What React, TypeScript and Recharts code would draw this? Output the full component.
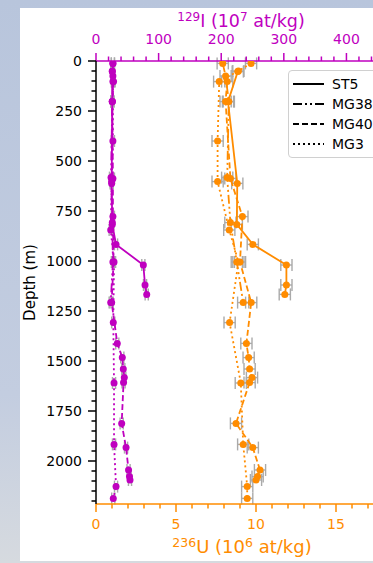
import React from 'react';
import {
  ComposedChart, Scatter, XAxis, YAxis, ErrorBar,
} from 'recharts';

const MAG = '#bf00bf';
const ORG = '#ff8c00';
const FONT = '"DejaVu Sans", sans-serif';

// depth profiles (129I in 1e7 at/kg, 236U in 1e6 at/kg)
const st5Depth = [53, 203, 612, 817, 917, 1020, 1120, 1167];
const st5I = [26, 26, 25, 26, 32, 75.6, 78.3, 81];
const st5U = [8.86, 8.25, 8.83, 8.8, 9.8, 11.9, 11.9, 11.8];

const mg38Depth = [12, 75, 203, 583, 808, 1005, 1208];
const mg38I = [27, 27, 26, 24, 26, 27, 23.5];
const mg38U = [7.92, 8.1, 8.3, 8.2, 8.4, 8.8, 9.2];

const mg40Depth = [103, 203, 587, 778, 1005, 1208, 1412, 1483, 1540, 1583, 1608, 1812, 1933, 2045, 2078, 2095];
const mg40I = [28, 26, 27, 27, 28, 25, 34, 42, 43.6, 45.2, 44, 41, 48, 52, 53.5, 54.3];
const mg40U = [8.2, 8.1, 8.4, 9.15, 9.0, 9.7, 9.4, 9.54, 9.6, 9.75, 9.6, 8.75, 9.8, 10.25, 10.1, 10.0];

const mg3Depth = [12, 50, 103, 400, 603, 845, 1005, 1308, 1610, 1917, 2128, 2187];
const mg3I = [27, 26, 27, 27, 25, 23.5, 28.8, 27.6, 28.8, 28.8, 32, 27.6];
const mg3U = [9.69, 8.9, 7.7, 7.6, 7.6, 8.33, 8.9, 8.35, 9.05, 9.2, 9.45, 9.45];

const I_ERR = 2.5;
const U_ERR = 0.35;

const depthMajor = [0, 250, 500, 750, 1000, 1250, 1500, 1750, 2000];
const iMajor = [0, 100, 200, 300, 400];
const uMajor = [0, 5, 10, 15];

const depthTicks = Array.from({ length: 45 }, (_, k) => k * 50);
const iTicks = Array.from({ length: 24 }, (_, k) => k * 20);
const uTicks = Array.from({ length: 19 }, (_, k) => k);

const build = (depth: number[], i: number[], u: number[]) =>
  depth.map((d, k) => ({ depth: d, i: i[k], u: u[k], iErr: I_ERR, uErr: U_ERR }));

const series = [
  { name: 'ST5', dash: undefined, data: build(st5Depth, st5I, st5U) },
  { name: 'MG38', dash: '9 3 2 3 2 3', data: build(mg38Depth, mg38I, mg38U) },
  { name: 'MG40', dash: '6 3', data: build(mg40Depth, mg40I, mg40U) },
  { name: 'MG3', dash: '2 3', data: build(mg3Depth, mg3I, mg3U) },
];

const TopTick = (props: any) => {
  const { x, y, payload } = props;
  const major = iMajor.includes(payload.value);
  return (
    <g>
      <line x1={x} x2={x} y1={y} y2={y - (major ? 8 : 4.5)} stroke={MAG} strokeWidth={1.5} />
      {major && (
        <text x={x} y={y - 17} textAnchor="middle" fill={MAG} fontSize={14} fontFamily={FONT}>
          {payload.value}
        </text>
      )}
    </g>
  );
};

const BottomTick = (props: any) => {
  const { x, y, payload } = props;
  const major = uMajor.includes(payload.value);
  return (
    <g>
      <line x1={x} x2={x} y1={y} y2={y + (major ? 8 : 4.5)} stroke={ORG} strokeWidth={1.5} />
      {major && (
        <text x={x} y={y + 25} textAnchor="middle" fill={ORG} fontSize={14} fontFamily={FONT}>
          {payload.value}
        </text>
      )}
    </g>
  );
};

const LeftTick = (props: any) => {
  const { x, y, payload } = props;
  const major = depthMajor.includes(payload.value);
  return (
    <g>
      <line x1={x} x2={x - (major ? 8 : 4.5)} y1={y} y2={y} stroke="#000" strokeWidth={1.5} />
      {major && (
        <text x={x - 14} y={y + 5} textAnchor="end" fill="#000" fontSize={14} fontFamily={FONT}>
          {payload.value}
        </text>
      )}
    </g>
  );
};

const dot = (color: string) => (p: any) => <circle cx={p.cx} cy={p.cy} r={3.5} fill={color} />;

export default function App() {
  return (
    <div
      style={{
        position: 'fixed', left: 0, top: 0, width: 373, height: 563, overflow: 'hidden',
        background: 'linear-gradient(180deg, #b8c5dc 0%, #c3cde0 70%, #d6dadf 100%)',
      }}
    >
      <div style={{ position: 'absolute', left: 20, top: 8, width: 420, height: 553, background: '#fff' }} />
      <div style={{ position: 'absolute', left: 0, top: 0 }}>
        <ComposedChart width={420} height={563} margin={{ top: 0, right: 36, bottom: 0, left: 0 }}>
          <XAxis
            xAxisId="I" orientation="top" type="number" dataKey="i" domain={[0, 460]} allowDataOverflow
            ticks={iTicks} interval={0} tickSize={0} tickMargin={0} tickLine={false} tick={TopTick}
            height={61} axisLine={{ stroke: MAG, strokeWidth: 1.5 }}
            label={{
              content: (p: any) => (
                <text x={p.viewBox.x + p.viewBox.width / 2 + 1} y={27} textAnchor="middle" fill={MAG} fontFamily={FONT}>
                  <tspan fontSize={12} dy={-6}>129</tspan>
                  <tspan fontSize={17.5} dy={6}>I (10</tspan>
                  <tspan fontSize={12} dy={-6}>7</tspan>
                  <tspan fontSize={17.5} dy={6}> at/kg)</tspan>
                </text>
              ),
            }}
          />
          <XAxis
            xAxisId="U" orientation="bottom" type="number" dataKey="u" domain={[0, 18]} allowDataOverflow
            ticks={uTicks} interval={0} tickSize={0} tickMargin={0} tickLine={false} tick={BottomTick}
            height={59} axisLine={{ stroke: ORG, strokeWidth: 1.5 }}
            label={{
              content: (p: any) => (
                <text x={p.viewBox.x + p.viewBox.width / 2 + 2} y={553} textAnchor="middle" fill={ORG} fontFamily={FONT}>
                  <tspan fontSize={12.5} dy={-6}>236</tspan>
                  <tspan fontSize={18} dy={6}>U (10</tspan>
                  <tspan fontSize={12.5} dy={-6}>6</tspan>
                  <tspan fontSize={18} dy={6}> at/kg)</tspan>
                </text>
              ),
            }}
          />
          <YAxis
            yAxisId="d" type="number" dataKey="depth" reversed domain={[0, 2215]} allowDataOverflow
            ticks={depthTicks} interval={0} tickSize={0} tickMargin={0} tickLine={false} tick={LeftTick}
            width={96} axisLine={{ stroke: '#000', strokeWidth: 1.5 }}
            label={{
              content: (p: any) => (
                <text
                  x={30} y={p.viewBox.y + p.viewBox.height / 2} textAnchor="middle" dominantBaseline="central"
                  transform={`rotate(-90 30 ${p.viewBox.y + p.viewBox.height / 2})`}
                  fontSize={15} fontFamily={FONT} fill="#000"
                >
                  Depth (m)
                </text>
              ),
            }}
          />
          {series.map((s) => (
            <Scatter
              key={`i-${s.name}`} name={`${s.name} I`} data={s.data} xAxisId="I" yAxisId="d"
              line={{ stroke: MAG, strokeWidth: 1.8, strokeDasharray: s.dash }} lineType="joint"
              shape={dot(MAG)} isAnimationActive={false}
            >
              <ErrorBar dataKey="iErr" direction="x" width={6} stroke="#aaaaaa" strokeWidth={1.4} isAnimationActive={false} />
            </Scatter>
          ))}
          {series.map((s) => (
            <Scatter
              key={`u-${s.name}`} name={`${s.name} U`} data={s.data} xAxisId="U" yAxisId="d"
              line={{ stroke: ORG, strokeWidth: 1.8, strokeDasharray: s.dash }} lineType="joint"
              shape={dot(ORG)} isAnimationActive={false}
            >
              <ErrorBar dataKey="uErr" direction="x" width={6} stroke="#aaaaaa" strokeWidth={1.4} isAnimationActive={false} />
            </Scatter>
          ))}
        </ComposedChart>
      </div>
      <div
        style={{
          position: 'absolute', left: 288, top: 70, width: 110, height: 86,
          border: '1px solid #d0d0d0', borderRadius: 4, background: 'rgba(255,255,255,0.9)',
          fontFamily: FONT, fontSize: 14, color: '#000',
        }}
      >
        {series.map((s, k) => (
          <div key={s.name} style={{ position: 'absolute', left: 0, top: 3 + k * 20, height: 20, width: 110 }}>
            <svg width={36} height={20} style={{ position: 'absolute', left: 3, top: 0 }}>
              <line x1={1} x2={32} y1={10} y2={10} stroke="#000" strokeWidth={2} strokeDasharray={s.dash} />
            </svg>
            <span style={{ position: 'absolute', left: 43, top: 1, lineHeight: '18px' }}>{s.name}</span>
          </div>
        ))}
      </div>
    </div>
  );
}
